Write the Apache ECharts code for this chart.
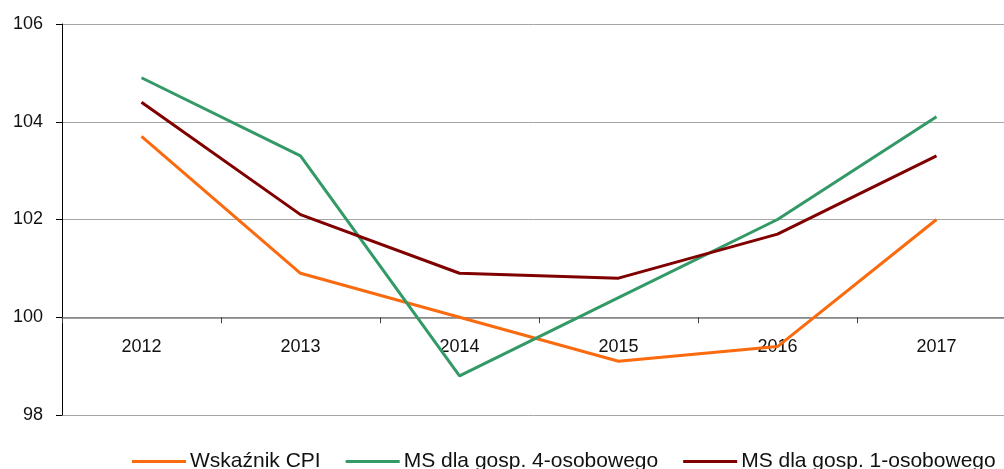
<!DOCTYPE html>
<html>
<head>
<meta charset="utf-8">
<script src="https://cdn.jsdelivr.net/npm/echarts@6/dist/echarts.min.js"></script>
<style>
html,body{margin:0;padding:0;background:#fff;}
#chart{width:1004px;height:469px;}
</style>
</head>
<body>
<div id="chart"></div>
<script>
var categories = ['2012', '2013', '2014', '2015', '2016', '2017'];
var seriesNames = ['Wskaźnik CPI', 'MS dla gosp. 4-osobowego', 'MS dla gosp. 1-osobowego'];
var cpi = [103.7, 100.9, 100.0, 99.1, 99.4, 102.0];
var ms4 = [104.9, 103.3, 98.8, 100.4, 102.0, 104.1];
var ms1 = [104.4, 102.1, 100.9, 100.8, 101.7, 103.3];
var yMin = 98, yMax = 106, yStep = 2, xAxisAt = 100;

var gridTop = 24, gridH = 391;
var xOffset = -gridH * (xAxisAt - yMin) / (yMax - yMin);

var font = 'Liberation Sans, Arial, sans-serif';
var chart = echarts.init(document.getElementById('chart'));
chart.setOption({
  animation: false,
  grid: {left: 62, width: 954, top: gridTop, height: gridH, containLabel: false, outerBoundsMode: 'none'},
  legend: {
    left: 132, top: 451, padding: 0,
    icon: 'rect', itemWidth: 54, itemHeight: 3, itemGap: 25,
    textStyle: {fontFamily: font, fontSize: 21, color: '#111', padding: [0,0,0,-1]},
    data: seriesNames
  },
  xAxis: {
    type: 'category',
    data: categories,
    boundaryGap: true,
    offset: xOffset,
    axisLine: {onZero: false, lineStyle: {color: '#808080', width: 1.5}},
    axisTick: {show: true, length: 6, inside: false, lineStyle: {color: '#404040'}},
    axisLabel: {fontFamily: font, fontSize: 18, color: '#111', margin: 21},
    splitLine: {show: false}
  },
  yAxis: {
    type: 'value',
    min: yMin, max: yMax, interval: yStep,
    axisLine: {show: true, lineStyle: {color: '#000', width: 1}},
    axisTick: {show: true, length: 6, lineStyle: {color: '#000'}},
    axisLabel: {fontFamily: font, fontSize: 18, color: '#111', margin: 19},
    splitLine: {show: true, lineStyle: {color: '#a6a6a6', width: 1}}
  },
  series: [
    {name: seriesNames[0], type: 'line', data: cpi, symbol: 'none', lineStyle: {width: 3, color: '#fa6a0e'}, itemStyle: {color: '#fa6a0e'}},
    {name: seriesNames[1], type: 'line', data: ms4, symbol: 'none', lineStyle: {width: 3, color: '#339966'}, itemStyle: {color: '#339966'}},
    {name: seriesNames[2], type: 'line', data: ms1, symbol: 'none', lineStyle: {width: 3, color: '#800000'}, itemStyle: {color: '#800000'}}
  ]
});
</script>
</body>
</html>
